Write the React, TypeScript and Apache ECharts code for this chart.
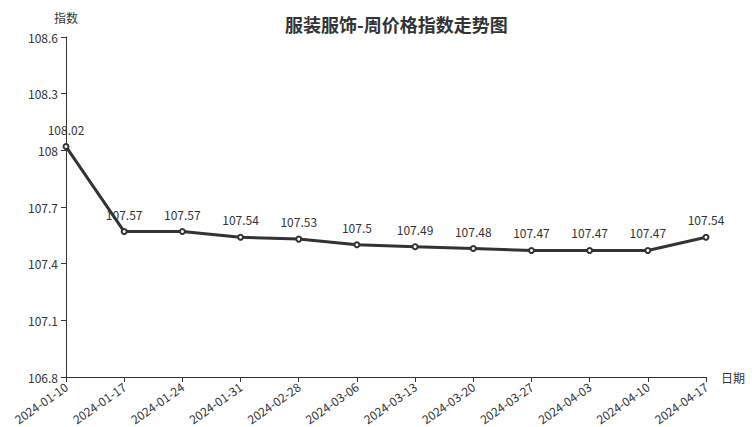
import React, { useEffect, useRef } from "react";
import * as echarts from "echarts";

const categories = [
  "2024-01-10", "2024-01-17", "2024-01-24", "2024-01-31", "2024-02-28", "2024-03-06",
  "2024-03-13", "2024-03-20", "2024-03-27", "2024-04-03", "2024-04-10", "2024-04-17",
];
const indexValues = [108.02, 107.57, 107.57, 107.54, 107.53, 107.5, 107.49, 107.48, 107.47, 107.47, 107.47, 107.54];

const FONT = "'Noto Sans CJK SC', 'Noto Sans', sans-serif";

export default function App() {
  const ref = useRef<HTMLDivElement>(null);
  useEffect(() => {
    if (!ref.current) return;
    const chart = echarts.init(ref.current, null, { renderer: "svg" });
    chart.setOption({
      animation: false,
      textStyle: { fontFamily: FONT },
      title: {
        text: "服装服饰-周价格指数走势图",
        left: 285,
        top: 15,
        padding: 0,
        textStyle: { fontSize: 18, fontWeight: "bold", color: "#333", fontFamily: FONT },
      },
      grid: { left: 66, right: 46, top: 37, bottom: 50, containLabel: false, outerBoundsMode: "none" },
      xAxis: {
        type: "category",
        data: categories,
        boundaryGap: false,
        name: "日期",
        nameGap: 15,
        nameTextStyle: { color: "#333", fontSize: 12 },
        axisLine: { lineStyle: { color: "#333" } },
        axisTick: { alignWithLabel: true, lineStyle: { color: "#333" } },
        axisLabel: { rotate: 35, color: "#333", fontSize: 12, interval: 0, margin: 8 },
      },
      yAxis: {
        type: "value",
        min: 106.8,
        max: 108.6,
        interval: 0.3,
        name: "指数",
        nameGap: 14,
        nameTextStyle: { color: "#333", fontSize: 12 },
        axisLine: { show: true, lineStyle: { color: "#333" } },
        axisTick: { show: true, lineStyle: { color: "#333" } },
        axisLabel: { color: "#333", fontSize: 12 },
        splitLine: { show: false },
      },
      series: [
        {
          type: "line",
          data: indexValues,
          symbol: "emptyCircle",
          symbolSize: 5,
          lineStyle: { color: "#333", width: 3 },
          itemStyle: { color: "#333", borderWidth: 1 },
          label: { show: true, position: "top", color: "#333", fontSize: 12, distance: 8 },
        },
      ],
    });
    return () => chart.dispose();
  }, []);
  return (
    <div
      ref={ref}
      style={{ position: "absolute", left: 0, top: 0, width: 752, height: 427 }}
    />
  );
}
